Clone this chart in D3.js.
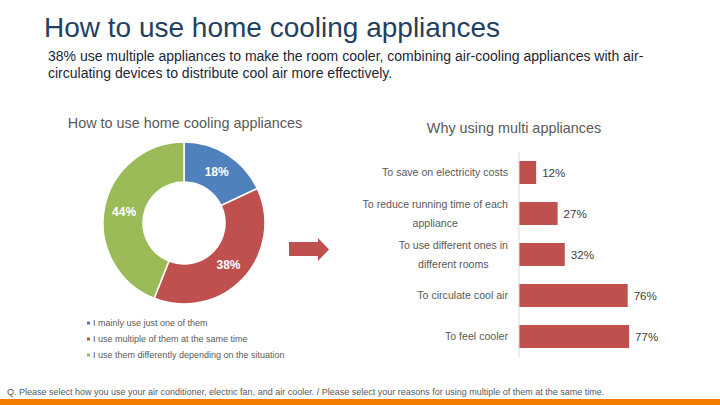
<!DOCTYPE html>
<html>
<head>
<meta charset="utf-8">
<script src="https://cdn.jsdelivr.net/npm/d3@7"></script>
<style>
  body { margin: 0; background: #fff; }
  svg text { font-family: "Liberation Sans", Arial, sans-serif; }
</style>
</head>
<body>
<div id="chart"></div>
<script>
// donut data
const usageLabels = [
  "I mainly use just one of them",
  "I use multiple of them at the same time",
  "I use them differently depending on the situation"
];
const usageValues = [18, 38, 44];
const usageColors = ["#4f81bd", "#c0504d", "#9bbb59"];

// bar data (top to bottom)
const reasonLabels = [
  ["To save on electricity costs"],
  ["To reduce running time of each", "appliance"],
  ["To use different ones in", "different rooms"],
  ["To circulate cool air"],
  ["To feel cooler"]
];
const reasonValues = [12, 27, 32, 76, 77];

const W = 720, H = 405;
const svg = d3.select("#chart").append("svg")
  .attr("width", W).attr("height", H);

// headings
svg.append("text")
  .attr("x", 44).attr("y", 37)
  .attr("font-size", 28).attr("fill", "#243f60")
  .text("How to use home cooling appliances");

const sub = svg.append("text")
  .attr("x", 48).attr("font-size", 14).attr("fill", "#1c2633");
sub.append("tspan").attr("x", 48).attr("y", 61)
  .text("38% use multiple appliances to make the room cooler, combining air-cooling appliances with air-");
sub.append("tspan").attr("x", 48).attr("y", 78)
  .text("circulating devices to distribute cool air more effectively.");

// ---- donut ----
const cx = 184, cy = 223;
const pie = d3.pie().sort(null).value(d => d);
const arc = d3.arc().innerRadius(41).outerRadius(81);

svg.append("text")
  .attr("x", cx + 1).attr("y", 128)
  .attr("text-anchor", "middle")
  .attr("font-size", 14.4).attr("fill", "#595959")
  .text("How to use home cooling appliances");

const donut = svg.append("g").attr("transform", `translate(${cx},${cy})`);
const slices = pie(usageValues);

donut.selectAll("path")
  .data(slices)
  .join("path")
  .attr("d", arc)
  .attr("fill", (d, i) => usageColors[i])
  .attr("stroke", "#fff")
  .attr("stroke-width", 1.5);

donut.selectAll("text")
  .data(slices)
  .join("text")
  .attr("transform", d => `translate(${arc.centroid(d)})`)
  .attr("text-anchor", "middle")
  .attr("dy", "0.35em")
  .attr("font-size", 12)
  .attr("font-weight", "bold")
  .attr("fill", "#fff")
  .text(d => d.data + "%");

// legend
const legend = svg.append("g")
  .selectAll("g")
  .data(usageLabels)
  .join("g")
  .attr("transform", (d, i) => `translate(87,${323 + i * 16})`);

legend.append("rect")
  .attr("x", 0).attr("y", -1.5)
  .attr("width", 3).attr("height", 3)
  .attr("fill", (d, i) => usageColors[i]);

legend.append("text")
  .attr("x", 6).attr("dy", "0.35em")
  .attr("font-size", 9).attr("fill", "#595959")
  .text(d => d);

// arrow
const arrow = d3.path();
arrow.moveTo(289, 242);
arrow.lineTo(318, 242);
arrow.lineTo(318, 238);
arrow.lineTo(329, 249.5);
arrow.lineTo(318, 261);
arrow.lineTo(318, 256);
arrow.lineTo(289, 256);
arrow.closePath();
svg.append("path").attr("d", arrow.toString()).attr("fill", "#c0504d");

// ---- bars ----
svg.append("text")
  .attr("x", 514).attr("y", 133)
  .attr("text-anchor", "middle")
  .attr("font-size", 14.4).attr("fill", "#595959")
  .text("Why using multi appliances");

const y = d3.scaleBand()
  .domain(d3.range(reasonValues.length))
  .range([152, 357])
  .paddingInner(0.44)
  .paddingOuter(0.22);

const x = d3.scaleLinear().domain([0, 100]).range([519, 662]);

svg.append("g")
  .selectAll("rect")
  .data(reasonValues)
  .join("rect")
  .attr("x", x(0))
  .attr("y", (d, i) => y(i))
  .attr("width", d => x(d) - x(0))
  .attr("height", y.bandwidth())
  .attr("fill", "#c0504d");

svg.append("line")
  .attr("x1", x(0)).attr("x2", x(0))
  .attr("y1", 152).attr("y2", 357)
  .attr("stroke", "#d9d9d9").attr("stroke-width", 1);

svg.append("g")
  .selectAll("text")
  .data(reasonValues)
  .join("text")
  .attr("x", d => x(d) + 6)
  .attr("y", (d, i) => y(i) + y.bandwidth() / 2)
  .attr("dy", "0.35em")
  .attr("font-size", 11.6).attr("fill", "#404040")
  .text(d => d + "%");

// category labels, lines centered within a right-aligned block
const lineGap = 19;
reasonLabels.forEach((lines, i) => {
  const mid = y(i) + y.bandwidth() / 2;
  const t = svg.append("text")
    .attr("font-size", 10.6).attr("fill", "#595959")
    .attr("text-anchor", "middle");
  lines.forEach((s, j) => {
    t.append("tspan")
      .attr("y", mid + (j - (lines.length - 1) / 2) * lineGap)
      .attr("dy", "0.35em")
      .text(s);
  });
  const widest = d3.max(t.selectAll("tspan").nodes(), n => n.getComputedTextLength());
  t.selectAll("tspan").attr("x", 508 - widest / 2);
});

// footer
svg.append("text")
  .attr("x", 7).attr("y", 395)
  .attr("font-size", 9).attr("fill", "#595959")
  .text("Q. Please select how you use your air conditioner, electric fan, and air cooler. / Please select your reasons for using multiple of them at the same time.");

svg.append("rect")
  .attr("x", 0).attr("y", 399)
  .attr("width", W).attr("height", 6)
  .attr("fill", "#f47b00");
</script>
</body>
</html>
